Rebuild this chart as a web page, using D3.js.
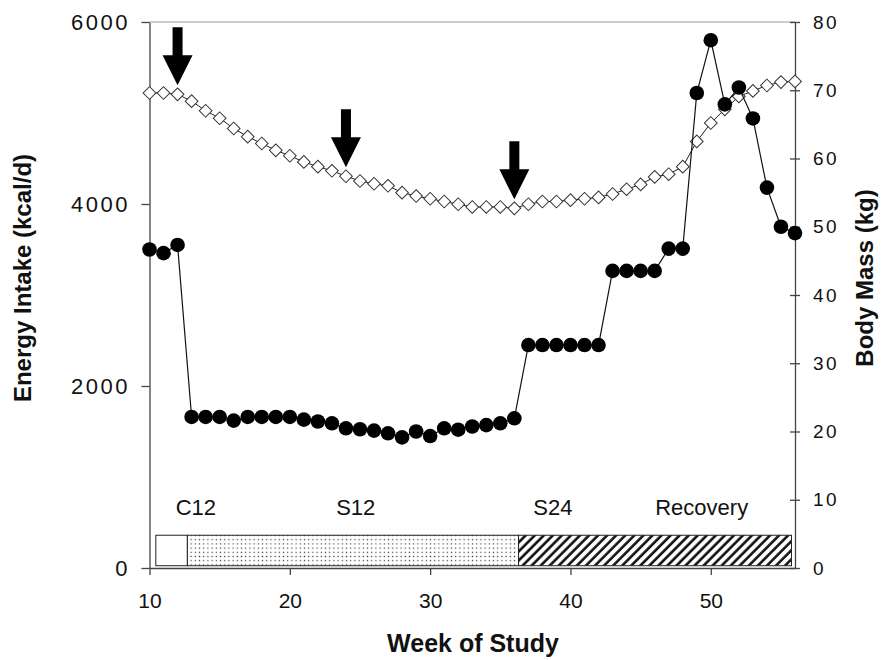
<!DOCTYPE html>
<html>
<head>
<meta charset="utf-8">
<script src="https://cdn.jsdelivr.net/npm/d3@7/dist/d3.min.js"></script>
<style>
  html, body { margin: 0; padding: 0; background: #fff; }
  svg { display: block; font-family: "Liberation Sans", Arial, sans-serif; }
</style>
</head>
<body>
<svg id="chart" width="883" height="660"></svg>
<script>
// ---------- data ----------
const weeks = [10,11,12,13,14,15,16,17,18,19,20,21,22,23,24,25,26,27,28,29,30,31,32,33,34,35,36,37,38,39,40,41,42,43,44,45,46,47,48,49,50,51,52,53,54,55,56];
const energyIntake = [3500,3460,3550,1660,1660,1660,1620,1660,1660,1660,1660,1630,1610,1590,1535,1525,1510,1480,1435,1500,1450,1535,1520,1555,1570,1590,1645,2450,2450,2450,2450,2450,2450,3265,3265,3265,3265,3510,3510,5220,5800,5095,5280,4940,4180,3750,3680];
const bodyMass = [69.6,69.6,69.4,68.4,67.0,65.9,64.4,63.2,62.2,61.2,60.4,59.5,58.8,58.2,57.4,56.7,56.3,56.0,55.0,54.5,54.1,53.7,53.3,52.9,52.9,52.9,52.7,53.3,53.7,53.7,53.9,54.1,54.3,54.8,55.5,56.2,57.3,57.7,58.8,62.5,65.2,67.2,69.1,69.9,70.7,71.2,71.3];
const arrowWeeks = [12, 24, 36];
const phaseNames = ["C12", "S12", "Recovery"];
const phaseStart = [10.45, 12.7, 36.3];
const phaseEnd   = [12.7, 36.3, 55.75];
const phaseBand  = [25, 360];           // kcal/d units of left axis
const labelNames = ["C12", "S12", "S24", "Recovery"];
const labelWeeks = [13.3, 24.7, 38.75, 49.35];
const xTicks = [10, 20, 30, 40, 50];
const yLeftTicks = [0, 2000, 4000, 6000];
const yRightTicks = [0, 10, 20, 30, 40, 50, 60, 70, 80];

// ---------- layout ----------
const svg = d3.select("#chart");
const X0 = 149.5, X1 = 795, Y0 = 568, Y1 = 22;
const x = d3.scaleLinear().domain([10, 56]).range([X0, X1]);
const yL = d3.scaleLinear().domain([0, 6000]).range([Y0, Y1]);
const yR = d3.scaleLinear().domain([0, 80]).range([Y0, Y1]);

// patterns
const defs = svg.append("defs");
const dots = defs.append("pattern").attr("id", "dots").attr("patternUnits", "userSpaceOnUse")
  .attr("width", 4.2).attr("height", 4.2);
dots.append("rect").attr("width", 4.2).attr("height", 4.2).attr("fill", "#fff");
dots.append("rect").attr("x", 1.5).attr("y", 1.5).attr("width", 1.2).attr("height", 1.2).attr("fill", "#333");
const hatch = defs.append("pattern").attr("id", "hatch").attr("patternUnits", "userSpaceOnUse")
  .attr("width", 6.4).attr("height", 6.4).attr("patternTransform", "rotate(45)");
hatch.append("rect").attr("width", 6.4).attr("height", 6.4).attr("fill", "#fff");
hatch.append("line").attr("x1", 1.5).attr("x2", 1.5).attr("y1", 0).attr("y2", 6.4)
  .attr("stroke", "#111").attr("stroke-width", 2.6);
const phaseFill = ["#fff", "url(#dots)", "url(#hatch)"];

// top border
svg.append("line").attr("x1", X0).attr("x2", X1).attr("y1", Y1).attr("y2", Y1)
  .attr("stroke", "#999").attr("stroke-width", 1.2);

// phase bar
svg.append("g").selectAll("rect").data(phaseNames).join("rect")
  .attr("x", (d, i) => x(phaseStart[i]))
  .attr("width", (d, i) => x(phaseEnd[i]) - x(phaseStart[i]))
  .attr("y", yL(phaseBand[1]))
  .attr("height", yL(phaseBand[0]) - yL(phaseBand[1]))
  .attr("fill", (d, i) => phaseFill[i])
  .attr("stroke", "#222").attr("stroke-width", 1);

svg.append("g").selectAll("text").data(labelNames).join("text")
  .attr("x", (d, i) => x(labelWeeks[i])).attr("y", 515)
  .attr("text-anchor", "middle").attr("font-size", 22).attr("fill", "#111")
  .text(d => d);

// axes
function styleAxis(g) {
  g.select(".domain").attr("stroke", "#444").attr("stroke-width", 1.3);
  g.selectAll(".tick line").attr("stroke", "#444").attr("stroke-width", 1.3);
  g.selectAll(".tick text").attr("fill", "#111").attr("font-family", '"Liberation Sans", Arial, sans-serif');
}
const gx = svg.append("g").attr("transform", `translate(0,${Y0})`)
  .call(d3.axisBottom(x).tickValues(xTicks).tickSize(7).tickSizeOuter(0).tickPadding(18));
styleAxis(gx);
gx.selectAll(".tick text").attr("font-size", 21);

const gl = svg.append("g").attr("transform", `translate(${X0},0)`)
  .call(d3.axisLeft(yL).tickValues(yLeftTicks).tickFormat(d3.format("d")).tickSize(8).tickSizeOuter(0).tickPadding(14));
styleAxis(gl);
gl.selectAll(".tick text").attr("font-size", 22).attr("letter-spacing", 2.5).attr("dx", 2.5);

const gr = svg.append("g").attr("transform", `translate(${X1},0)`)
  .call(d3.axisRight(yR).tickValues(yRightTicks).tickSize(5).tickSizeOuter(0).tickPadding(13));
styleAxis(gr);
gr.selectAll(".tick").append("line").attr("x1", -5).attr("x2", 0)
  .attr("stroke", "#444").attr("stroke-width", 1.3);
gr.selectAll(".tick text").attr("font-size", 19).attr("letter-spacing", 2.5);

// axis titles
svg.append("text").attr("x", 473).attr("y", 652).attr("text-anchor", "middle")
  .attr("font-size", 25).attr("font-weight", "bold").attr("fill", "#111").text("Week of Study");
svg.append("text").attr("transform", "translate(31,278) rotate(-90)").attr("text-anchor", "middle")
  .attr("font-size", 24).attr("font-weight", "bold").attr("fill", "#111").text("Energy Intake (kcal/d)");
svg.append("text").attr("transform", "translate(873,278) rotate(-90)").attr("text-anchor", "middle")
  .attr("font-size", 24).attr("font-weight", "bold").attr("fill", "#111").text("Body Mass (kg)");

// body mass series (open diamonds)
const bm = weeks.map((w, i) => [w, bodyMass[i]]);
svg.append("path").datum(bm)
  .attr("d", d3.line().x(d => x(d[0])).y(d => yR(d[1])))
  .attr("fill", "none").attr("stroke", "#222").attr("stroke-width", 1);
svg.append("g").selectAll("path").data(bm).join("path")
  .attr("d", d3.symbol(d3.symbolSquare, 81)())
  .attr("transform", d => `translate(${x(d[0])},${yR(d[1])}) rotate(45)`)
  .attr("fill", "#fff").attr("stroke", "#333").attr("stroke-width", 1);

// energy intake series (filled circles)
const ei = weeks.map((w, i) => [w, energyIntake[i]]);
svg.append("path").datum(ei)
  .attr("d", d3.line().x(d => x(d[0])).y(d => yL(d[1])))
  .attr("fill", "none").attr("stroke", "#111").attr("stroke-width", 1.2);
svg.append("g").selectAll("circle").data(ei).join("circle")
  .attr("cx", d => x(d[0])).attr("cy", d => yL(d[1])).attr("r", 7.3)
  .attr("fill", "#000");

// arrows
const arrowPath = "M0,0 L-15,-30 L-5,-30 L-5,-58 L5,-58 L5,-30 L15,-30 Z";
svg.append("g").selectAll("path").data(arrowWeeks).join("path")
  .attr("d", arrowPath)
  .attr("transform", w => `translate(${x(w)},${yR(bodyMass[weeks.indexOf(w)]) - 9})`)
  .attr("fill", "#000");
</script>
</body>
</html>
